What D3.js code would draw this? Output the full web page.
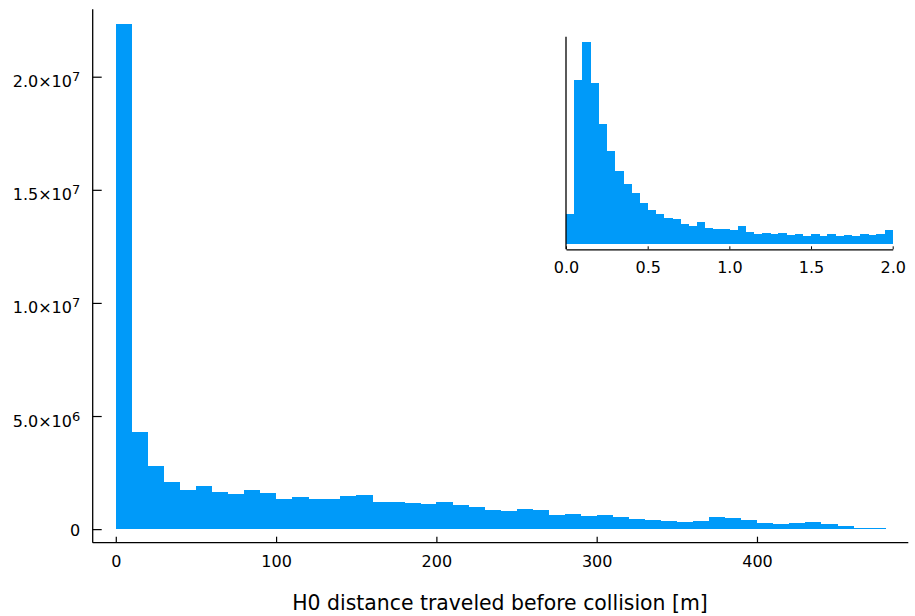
<!DOCTYPE html>
<html>
<head>
<meta charset="utf-8">
<script src="https://cdn.jsdelivr.net/npm/d3@7"></script>
<style>
  body { margin: 0; background: #fff; }
  svg { display: block; font-family: "DejaVu Sans", sans-serif; }
  .tick text { fill: #000; }
</style>
</head>
<body>
<div id="chart"></div>
<script>
// main histogram: bin edges [m] and counts
var mainEdges = [0, 10, 20, 30, 40, 50, 60, 70, 80, 90, 100, 110, 120, 130, 140, 150, 160, 170, 180, 190,
  200, 210, 220, 230, 240, 250, 260, 270, 280, 290, 300, 310, 320, 330, 340, 350, 360, 370, 380, 390,
  400, 410, 420, 430, 440, 450, 460, 470, 480]
var mainCounts = [22.33e6, 4.30e6, 2.77e6, 2.07e6, 1.71e6, 1.89e6, 1.65e6, 1.55e6, 1.72e6, 1.59e6,
  1.33e6, 1.40e6, 1.34e6, 1.31e6, 1.48e6, 1.51e6, 1.21e6, 1.18e6, 1.14e6, 1.09e6,
  1.22e6, 1.05e6, 0.96e6, 0.86e6, 0.81e6, 0.88e6, 0.84e6, 0.63e6, 0.68e6, 0.59e6,
  0.63e6, 0.55e6, 0.43e6, 0.41e6, 0.34e6, 0.31e6, 0.37e6, 0.52e6, 0.47e6, 0.41e6,
  0.29e6, 0.24e6, 0.29e6, 0.32e6, 0.21e6, 0.12e6, 0.06e6, 0.045e6]
var mainXTicks = [0, 100, 200, 300, 400]
var mainYTicks = [0, 5e6, 1e7, 1.5e7, 2e7]
var mainYLabels = [['0', ''], ['5.0×10', '6'], ['1.0×10', '7'], ['1.5×10', '7'], ['2.0×10', '7']]

// inset histogram: 0 - 2 m, counts in arbitrary units
var insetEdges = [0, 0.05, 0.1, 0.15, 0.2, 0.25, 0.3, 0.35, 0.4, 0.45, 0.5, 0.55, 0.6, 0.65, 0.7, 0.75,
  0.8, 0.85, 0.9, 0.95, 1.0, 1.05, 1.1, 1.15, 1.2, 1.25, 1.3, 1.35, 1.4, 1.45, 1.5, 1.55, 1.6, 1.65,
  1.7, 1.75, 1.8, 1.85, 1.9, 1.95, 2.0]
var insetCounts = [90, 491, 605, 481, 359, 278, 217, 178, 151, 122, 101, 89, 76, 73, 59, 54, 65, 48, 43, 43,
  40, 52, 35, 30, 32, 30, 32, 26, 29, 23, 29, 23, 28, 24, 26, 24, 28, 25, 30, 41]
var insetXTicks = [0, 0.5, 1.0, 1.5, 2.0]

var xLabel = 'H0 distance traveled before collision [m]'

var width = 915
var height = 616
var barColor = '#009AF9'

var svg = d3.select('#chart')
  .append('svg')
  .attr('width', width)
  .attr('height', height)

// ---- main plot ----
var xScale = d3.scaleLinear()
  .domain([-14.4, 494.4])
  .range([92.7, 908.3])

var yScale = d3.scaleLinear()
  .domain([-0.6e6, 22.98e6])
  .range([542.7, 9.3])

var bins = mainCounts.map((c, i) => ({ x0: mainEdges[i], x1: mainEdges[i + 1], n: c }))

svg.append('g')
  .selectAll('rect')
  .data(bins)
  .enter()
  .append('rect')
  .attr('x', d => xScale(d.x0))
  .attr('width', d => xScale(d.x1) - xScale(d.x0) + 0.4)
  .attr('y', d => yScale(d.n))
  .attr('height', d => Math.max(1, yScale(0) - yScale(d.n)))
  .style('fill', barColor)
  .attr('shape-rendering', 'crispEdges')

// X axis
var xAxis = d3.axisBottom(xScale)
  .tickValues(mainXTicks)
  .tickFormat(d3.format('d'))
  .tickSizeInner(-6)
  .tickSizeOuter(0)
  .tickPadding(13)

var xg = svg.append('g')
  .attr('transform', `translate(0,${yScale.range()[0]})`)
  .call(xAxis)
xg.select('.domain').attr('d', `M${xScale.range()[0]},0H${xScale.range()[1]}`)
  .style('stroke', '#000').style('stroke-width', 1.3)
xg.selectAll('.tick line').style('stroke', '#000').style('stroke-width', 1.2)
xg.selectAll('.tick text').style('font-size', '16px').style('font-family', '"DejaVu Sans"')

// Y axis
var yAxis = d3.axisLeft(yScale)
  .tickValues(mainYTicks)
  .tickSizeInner(-9)
  .tickSizeOuter(0)
  .tickPadding(12.5)

var yg = svg.append('g')
  .attr('transform', `translate(${xScale.range()[0]},0)`)
  .call(yAxis)
yg.select('.domain').attr('d', `M0,${yScale.range()[0]}V${yScale.range()[1]}`)
  .style('stroke', '#000').style('stroke-width', 1.3)
yg.selectAll('.tick line').style('stroke', '#000').style('stroke-width', 1.2)
yg.selectAll('.tick text')
  .style('font-size', '16px')
  .style('font-family', '"DejaVu Sans"')
  .each(function(d, i) {
    var t = d3.select(this)
    var lab = mainYLabels[i]
    t.text(null).attr('dy', null)
    if (lab[1] === '') {
      t.attr('y', 5.9).text(lab[0])
    } else {
      t.attr('y', 10)
      t.append('tspan').text(lab[0])
      t.append('tspan').text(lab[1]).attr('dy', -6).style('font-size', '13px')
    }
  })

svg.append('text')
  .attr('x', 500)
  .attr('y', 610)
  .attr('text-anchor', 'middle')
  .style('font-size', '20.4px')
  .text(xLabel)

// ---- inset ----
var xIn = d3.scaleLinear()
  .domain([0, 2])
  .range([566, 892.7])

var inMax = d3.max(insetCounts)
var yIn = d3.scaleLinear()
  .domain([-0.0273 * inMax, 1.026 * inMax])
  .range([249.3, 36.7])

var inBins = insetCounts.map((c, i) => ({ x0: insetEdges[i], x1: insetEdges[i + 1], n: c }))

svg.append('g')
  .selectAll('rect')
  .data(inBins)
  .enter()
  .append('rect')
  .attr('x', d => xIn(d.x0))
  .attr('width', d => xIn(d.x1) - xIn(d.x0) + 0.4)
  .attr('y', d => yIn(d.n))
  .attr('height', d => yIn(0) - yIn(d.n))
  .style('fill', barColor)
  .attr('shape-rendering', 'crispEdges')

var xInAxis = d3.axisBottom(xIn)
  .tickValues(insetXTicks)
  .tickFormat(d3.format('.1f'))
  .tickSizeInner(-3)
  .tickSizeOuter(0)
  .tickPadding(12.5)

var xig = svg.append('g')
  .attr('transform', `translate(0,${yIn.range()[0]})`)
  .call(xInAxis)
xig.select('.domain').style('stroke', '#000').style('stroke-width', 1.3)
xig.selectAll('.tick line').style('stroke', '#000').style('stroke-width', 1)
xig.selectAll('.tick text').style('font-size', '16px').style('font-family', '"DejaVu Sans"')

svg.append('line')
  .attr('x1', xIn.range()[0]).attr('x2', xIn.range()[0])
  .attr('y1', yIn.range()[0]).attr('y2', yIn.range()[1])
  .style('stroke', '#000')
  .style('stroke-width', 1.3)
</script>
</body>
</html>
